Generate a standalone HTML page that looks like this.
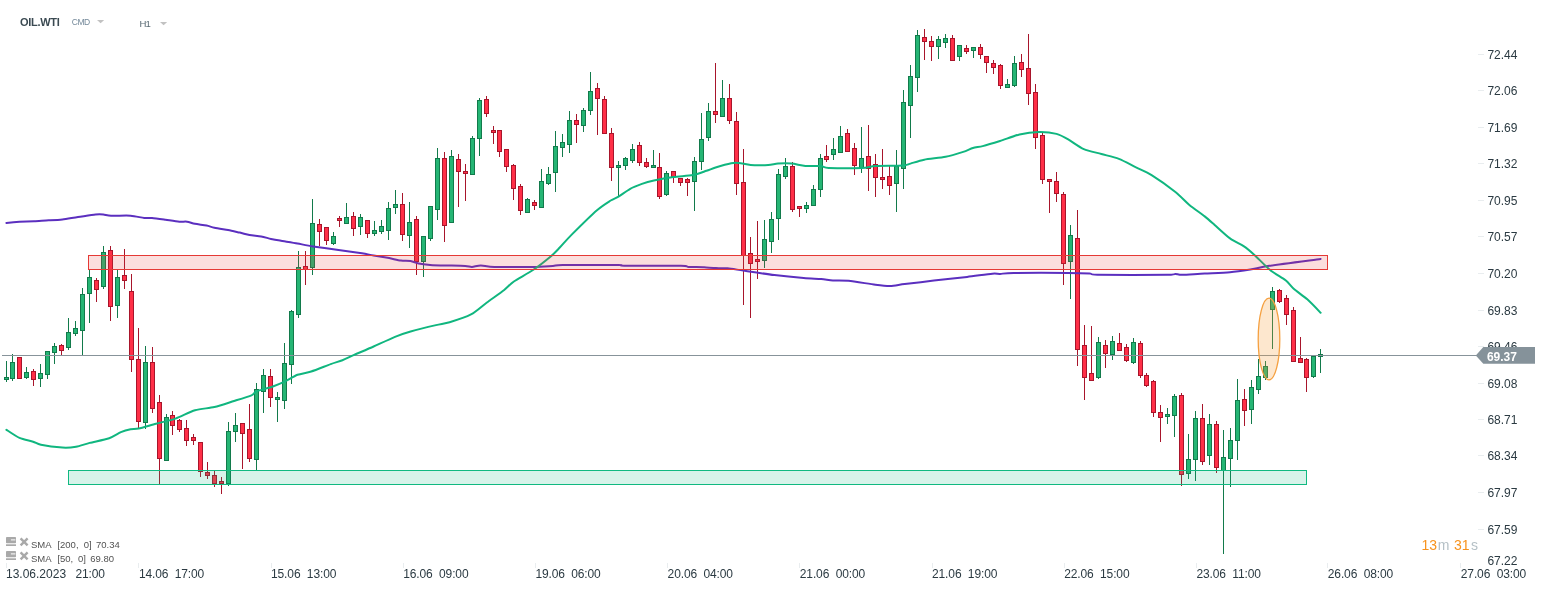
<!DOCTYPE html>
<html><head><meta charset="utf-8"><title>OIL.WTI</title>
<style>
html,body{margin:0;padding:0;background:#fff;}
body{width:1546px;height:590px;position:relative;overflow:hidden;font-family:"Liberation Sans",sans-serif;}
svg{position:absolute;left:0;top:0;}
.yl{position:absolute;left:1487.5px;font-size:12px;line-height:14px;color:#2b3a42;letter-spacing:-0.05px;}
.yt{position:absolute;left:1478px;width:6px;height:1px;background:#e9edef;}
.xl{position:absolute;top:566.5px;font-size:12px;line-height:14px;color:#2b3a42;white-space:nowrap;letter-spacing:-0.12px;}
.xt{position:absolute;top:563px;width:1px;height:5px;background:#e9edef;}
.hd{position:absolute;white-space:nowrap;}
.lg{position:absolute;font-size:9.5px;line-height:12px;color:#525252;white-space:nowrap;}
</style></head><body>
<svg width="1546" height="590" viewBox="0 0 1546 590">
<g shape-rendering="crispEdges">
<rect x="6.0" y="361" width="1" height="21" fill="#127a4b"/>
<rect x="4.5" y="377.5" width="4" height="2" fill="#25b574" stroke="#127a4b" stroke-width="1"/>
<rect x="12.0" y="354" width="1" height="27" fill="#127a4b"/>
<rect x="10.5" y="362.5" width="4" height="16" fill="#25b574" stroke="#127a4b" stroke-width="1"/>
<rect x="19.0" y="357" width="1" height="22" fill="#a8152b"/>
<rect x="17.5" y="357.5" width="4" height="21" fill="#ff2f47" stroke="#a8152b" stroke-width="1"/>
<rect x="26.0" y="367" width="1" height="12" fill="#127a4b"/>
<rect x="24.5" y="372.5" width="4" height="5" fill="#25b574" stroke="#127a4b" stroke-width="1"/>
<rect x="33.0" y="369" width="1" height="17" fill="#a8152b"/>
<rect x="31.5" y="371.5" width="4" height="8" fill="#ff2f47" stroke="#a8152b" stroke-width="1"/>
<rect x="40.0" y="364" width="1" height="23" fill="#127a4b"/>
<rect x="38.5" y="373.5" width="4" height="5" fill="#25b574" stroke="#127a4b" stroke-width="1"/>
<rect x="47.0" y="351" width="1" height="28" fill="#127a4b"/>
<rect x="45.5" y="351.5" width="4" height="23" fill="#25b574" stroke="#127a4b" stroke-width="1"/>
<rect x="54.0" y="343" width="1" height="21" fill="#127a4b"/>
<rect x="52.5" y="346.5" width="4" height="6" fill="#25b574" stroke="#127a4b" stroke-width="1"/>
<rect x="61.0" y="344" width="1" height="11" fill="#a8152b"/>
<rect x="59.5" y="345.5" width="4" height="5" fill="#ff2f47" stroke="#a8152b" stroke-width="1"/>
<rect x="68.0" y="318" width="1" height="32" fill="#127a4b"/>
<rect x="66.5" y="332.5" width="4" height="15" fill="#25b574" stroke="#127a4b" stroke-width="1"/>
<rect x="75.0" y="321" width="1" height="15" fill="#127a4b"/>
<rect x="73.5" y="328.5" width="4" height="5" fill="#25b574" stroke="#127a4b" stroke-width="1"/>
<rect x="82.0" y="288" width="1" height="67" fill="#127a4b"/>
<rect x="80.5" y="294.5" width="4" height="36" fill="#25b574" stroke="#127a4b" stroke-width="1"/>
<rect x="89.0" y="269" width="1" height="54" fill="#127a4b"/>
<rect x="87.5" y="277.5" width="4" height="16" fill="#25b574" stroke="#127a4b" stroke-width="1"/>
<rect x="96.0" y="278" width="1" height="24" fill="#a8152b"/>
<rect x="94.5" y="280.5" width="4" height="9" fill="#ff2f47" stroke="#a8152b" stroke-width="1"/>
<rect x="103.0" y="246" width="1" height="43" fill="#127a4b"/>
<rect x="101.5" y="252.5" width="4" height="34" fill="#25b574" stroke="#127a4b" stroke-width="1"/>
<rect x="110.0" y="246" width="1" height="75" fill="#a8152b"/>
<rect x="108.5" y="250.5" width="4" height="56" fill="#ff2f47" stroke="#a8152b" stroke-width="1"/>
<rect x="117.0" y="269" width="1" height="49" fill="#127a4b"/>
<rect x="115.5" y="277.5" width="4" height="28" fill="#25b574" stroke="#127a4b" stroke-width="1"/>
<rect x="124.0" y="249" width="1" height="40" fill="#a8152b"/>
<rect x="122.5" y="275.5" width="4" height="5" fill="#ff2f47" stroke="#a8152b" stroke-width="1"/>
<rect x="131.0" y="274" width="1" height="98" fill="#a8152b"/>
<rect x="129.5" y="291.5" width="4" height="68" fill="#ff2f47" stroke="#a8152b" stroke-width="1"/>
<rect x="138.0" y="328" width="1" height="100" fill="#a8152b"/>
<rect x="136.5" y="359.5" width="4" height="62" fill="#ff2f47" stroke="#a8152b" stroke-width="1"/>
<rect x="145.0" y="346" width="1" height="83" fill="#127a4b"/>
<rect x="143.5" y="362.5" width="4" height="60" fill="#25b574" stroke="#127a4b" stroke-width="1"/>
<rect x="152.0" y="347" width="1" height="66" fill="#a8152b"/>
<rect x="150.5" y="362.5" width="4" height="46" fill="#ff2f47" stroke="#a8152b" stroke-width="1"/>
<rect x="159.0" y="395" width="1" height="89" fill="#a8152b"/>
<rect x="157.5" y="402.5" width="4" height="56" fill="#ff2f47" stroke="#a8152b" stroke-width="1"/>
<rect x="166.0" y="414" width="1" height="47" fill="#127a4b"/>
<rect x="164.5" y="417.5" width="4" height="43" fill="#25b574" stroke="#127a4b" stroke-width="1"/>
<rect x="172.0" y="411" width="1" height="24" fill="#a8152b"/>
<rect x="170.5" y="415.5" width="4" height="10" fill="#ff2f47" stroke="#a8152b" stroke-width="1"/>
<rect x="179.0" y="419" width="1" height="13" fill="#a8152b"/>
<rect x="177.5" y="420.5" width="4" height="9" fill="#ff2f47" stroke="#a8152b" stroke-width="1"/>
<rect x="186.0" y="420" width="1" height="26" fill="#a8152b"/>
<rect x="184.5" y="428.5" width="4" height="12" fill="#ff2f47" stroke="#a8152b" stroke-width="1"/>
<rect x="193.0" y="434" width="1" height="11" fill="#a8152b"/>
<rect x="191.5" y="437.5" width="4" height="3" fill="#ff2f47" stroke="#a8152b" stroke-width="1"/>
<rect x="200.0" y="442" width="1" height="35" fill="#a8152b"/>
<rect x="198.5" y="442.5" width="4" height="29" fill="#ff2f47" stroke="#a8152b" stroke-width="1"/>
<rect x="207.0" y="462" width="1" height="17" fill="#a8152b"/>
<rect x="205.5" y="472.5" width="4" height="3" fill="#ff2f47" stroke="#a8152b" stroke-width="1"/>
<rect x="214.0" y="471" width="1" height="16" fill="#a8152b"/>
<rect x="212.5" y="475.5" width="4" height="8" fill="#ff2f47" stroke="#a8152b" stroke-width="1"/>
<rect x="221.0" y="477" width="1" height="17" fill="#a8152b"/>
<rect x="219.5" y="481.5" width="4" height="2" fill="#ff2f47" stroke="#a8152b" stroke-width="1"/>
<rect x="228.0" y="422" width="1" height="64" fill="#127a4b"/>
<rect x="226.5" y="431.5" width="4" height="52" fill="#25b574" stroke="#127a4b" stroke-width="1"/>
<rect x="235.0" y="413" width="1" height="29" fill="#127a4b"/>
<rect x="233.5" y="425.5" width="4" height="6" fill="#25b574" stroke="#127a4b" stroke-width="1"/>
<rect x="242.0" y="423" width="1" height="46" fill="#a8152b"/>
<rect x="240.5" y="423.5" width="4" height="10" fill="#ff2f47" stroke="#a8152b" stroke-width="1"/>
<rect x="249.0" y="404" width="1" height="58" fill="#a8152b"/>
<rect x="247.5" y="429.5" width="4" height="29" fill="#ff2f47" stroke="#a8152b" stroke-width="1"/>
<rect x="256.0" y="383" width="1" height="87" fill="#127a4b"/>
<rect x="254.5" y="389.5" width="4" height="70" fill="#25b574" stroke="#127a4b" stroke-width="1"/>
<rect x="263.0" y="369" width="1" height="44" fill="#127a4b"/>
<rect x="261.5" y="375.5" width="4" height="16" fill="#25b574" stroke="#127a4b" stroke-width="1"/>
<rect x="270.0" y="369" width="1" height="38" fill="#a8152b"/>
<rect x="268.5" y="376.5" width="4" height="21" fill="#ff2f47" stroke="#a8152b" stroke-width="1"/>
<rect x="277.0" y="392" width="1" height="30" fill="#127a4b"/>
<rect x="275.5" y="397.5" width="4" height="2" fill="#25b574" stroke="#127a4b" stroke-width="1"/>
<rect x="284.0" y="343" width="1" height="66" fill="#127a4b"/>
<rect x="282.5" y="363.5" width="4" height="37" fill="#25b574" stroke="#127a4b" stroke-width="1"/>
<rect x="291.0" y="310" width="1" height="74" fill="#127a4b"/>
<rect x="289.5" y="311.5" width="4" height="53" fill="#25b574" stroke="#127a4b" stroke-width="1"/>
<rect x="298.0" y="251" width="1" height="67" fill="#127a4b"/>
<rect x="296.5" y="267.5" width="4" height="47" fill="#25b574" stroke="#127a4b" stroke-width="1"/>
<rect x="305.0" y="251" width="1" height="34" fill="#a8152b"/>
<rect x="303.5" y="266.5" width="4" height="3" fill="#ff2f47" stroke="#a8152b" stroke-width="1"/>
<rect x="312.0" y="199" width="1" height="76" fill="#127a4b"/>
<rect x="310.5" y="223.5" width="4" height="44" fill="#25b574" stroke="#127a4b" stroke-width="1"/>
<rect x="319.0" y="219" width="1" height="27" fill="#a8152b"/>
<rect x="317.5" y="224.5" width="4" height="7" fill="#ff2f47" stroke="#a8152b" stroke-width="1"/>
<rect x="326.0" y="227" width="1" height="18" fill="#a8152b"/>
<rect x="324.5" y="227.5" width="4" height="13" fill="#ff2f47" stroke="#a8152b" stroke-width="1"/>
<rect x="333.0" y="232" width="1" height="13" fill="#127a4b"/>
<rect x="331.5" y="236.5" width="4" height="7" fill="#25b574" stroke="#127a4b" stroke-width="1"/>
<rect x="339.0" y="216" width="1" height="11" fill="#a8152b"/>
<rect x="337.5" y="218.5" width="4" height="2" fill="#ff2f47" stroke="#a8152b" stroke-width="1"/>
<rect x="346.0" y="203" width="1" height="21" fill="#127a4b"/>
<rect x="344.5" y="217.5" width="4" height="6" fill="#25b574" stroke="#127a4b" stroke-width="1"/>
<rect x="353.0" y="212" width="1" height="24" fill="#a8152b"/>
<rect x="351.5" y="216.5" width="4" height="12" fill="#ff2f47" stroke="#a8152b" stroke-width="1"/>
<rect x="360.0" y="214" width="1" height="21" fill="#127a4b"/>
<rect x="358.5" y="217.5" width="4" height="9" fill="#25b574" stroke="#127a4b" stroke-width="1"/>
<rect x="367.0" y="220" width="1" height="18" fill="#a8152b"/>
<rect x="365.5" y="220.5" width="4" height="13" fill="#ff2f47" stroke="#a8152b" stroke-width="1"/>
<rect x="374.0" y="221" width="1" height="15" fill="#127a4b"/>
<rect x="372.5" y="230.5" width="4" height="3" fill="#25b574" stroke="#127a4b" stroke-width="1"/>
<rect x="381.0" y="220" width="1" height="14" fill="#127a4b"/>
<rect x="379.5" y="226.5" width="4" height="5" fill="#25b574" stroke="#127a4b" stroke-width="1"/>
<rect x="388.0" y="202" width="1" height="38" fill="#127a4b"/>
<rect x="386.5" y="208.5" width="4" height="22" fill="#25b574" stroke="#127a4b" stroke-width="1"/>
<rect x="395.0" y="190" width="1" height="24" fill="#127a4b"/>
<rect x="393.5" y="204.5" width="4" height="3" fill="#25b574" stroke="#127a4b" stroke-width="1"/>
<rect x="402.0" y="193" width="1" height="48" fill="#a8152b"/>
<rect x="400.5" y="204.5" width="4" height="30" fill="#ff2f47" stroke="#a8152b" stroke-width="1"/>
<rect x="409.0" y="202" width="1" height="46" fill="#127a4b"/>
<rect x="407.5" y="222.5" width="4" height="13" fill="#25b574" stroke="#127a4b" stroke-width="1"/>
<rect x="416.0" y="216" width="1" height="59" fill="#a8152b"/>
<rect x="414.5" y="219.5" width="4" height="42" fill="#ff2f47" stroke="#a8152b" stroke-width="1"/>
<rect x="423.0" y="236" width="1" height="41" fill="#127a4b"/>
<rect x="421.5" y="236.5" width="4" height="25" fill="#25b574" stroke="#127a4b" stroke-width="1"/>
<rect x="430.0" y="206" width="1" height="35" fill="#127a4b"/>
<rect x="428.5" y="206.5" width="4" height="32" fill="#25b574" stroke="#127a4b" stroke-width="1"/>
<rect x="437.0" y="148" width="1" height="72" fill="#127a4b"/>
<rect x="435.5" y="158.5" width="4" height="51" fill="#25b574" stroke="#127a4b" stroke-width="1"/>
<rect x="444.0" y="152" width="1" height="90" fill="#a8152b"/>
<rect x="442.5" y="158.5" width="4" height="67" fill="#ff2f47" stroke="#a8152b" stroke-width="1"/>
<rect x="451.0" y="150" width="1" height="73" fill="#127a4b"/>
<rect x="449.5" y="156.5" width="4" height="66" fill="#25b574" stroke="#127a4b" stroke-width="1"/>
<rect x="458.0" y="154" width="1" height="53" fill="#a8152b"/>
<rect x="456.5" y="159.5" width="4" height="12" fill="#ff2f47" stroke="#a8152b" stroke-width="1"/>
<rect x="465.0" y="164" width="1" height="37" fill="#a8152b"/>
<rect x="463.5" y="171.5" width="4" height="2" fill="#ff2f47" stroke="#a8152b" stroke-width="1"/>
<rect x="472.0" y="136" width="1" height="39" fill="#127a4b"/>
<rect x="470.5" y="138.5" width="4" height="36" fill="#25b574" stroke="#127a4b" stroke-width="1"/>
<rect x="479.0" y="98" width="1" height="58" fill="#127a4b"/>
<rect x="477.5" y="100.5" width="4" height="38" fill="#25b574" stroke="#127a4b" stroke-width="1"/>
<rect x="486.0" y="96" width="1" height="21" fill="#a8152b"/>
<rect x="484.5" y="99.5" width="4" height="14" fill="#ff2f47" stroke="#a8152b" stroke-width="1"/>
<rect x="493.0" y="126" width="1" height="18" fill="#a8152b"/>
<rect x="491.5" y="130.5" width="4" height="2" fill="#ff2f47" stroke="#a8152b" stroke-width="1"/>
<rect x="499.0" y="130" width="1" height="27" fill="#a8152b"/>
<rect x="497.5" y="130.5" width="4" height="21" fill="#ff2f47" stroke="#a8152b" stroke-width="1"/>
<rect x="506.0" y="149" width="1" height="23" fill="#a8152b"/>
<rect x="504.5" y="149.5" width="4" height="17" fill="#ff2f47" stroke="#a8152b" stroke-width="1"/>
<rect x="513.0" y="164" width="1" height="36" fill="#a8152b"/>
<rect x="511.5" y="165.5" width="4" height="23" fill="#ff2f47" stroke="#a8152b" stroke-width="1"/>
<rect x="520.0" y="184" width="1" height="31" fill="#a8152b"/>
<rect x="518.5" y="186.5" width="4" height="24" fill="#ff2f47" stroke="#a8152b" stroke-width="1"/>
<rect x="527.0" y="198" width="1" height="15" fill="#127a4b"/>
<rect x="525.5" y="199.5" width="4" height="13" fill="#25b574" stroke="#127a4b" stroke-width="1"/>
<rect x="534.0" y="200" width="1" height="10" fill="#a8152b"/>
<rect x="532.5" y="202.5" width="4" height="3" fill="#ff2f47" stroke="#a8152b" stroke-width="1"/>
<rect x="541.0" y="169" width="1" height="39" fill="#127a4b"/>
<rect x="539.5" y="181.5" width="4" height="26" fill="#25b574" stroke="#127a4b" stroke-width="1"/>
<rect x="548.0" y="167" width="1" height="18" fill="#127a4b"/>
<rect x="546.5" y="174.5" width="4" height="9" fill="#25b574" stroke="#127a4b" stroke-width="1"/>
<rect x="555.0" y="131" width="1" height="61" fill="#127a4b"/>
<rect x="553.5" y="146.5" width="4" height="26" fill="#25b574" stroke="#127a4b" stroke-width="1"/>
<rect x="562.0" y="134" width="1" height="23" fill="#127a4b"/>
<rect x="560.5" y="142.5" width="4" height="5" fill="#25b574" stroke="#127a4b" stroke-width="1"/>
<rect x="569.0" y="111" width="1" height="42" fill="#127a4b"/>
<rect x="567.5" y="120.5" width="4" height="24" fill="#25b574" stroke="#127a4b" stroke-width="1"/>
<rect x="576.0" y="114" width="1" height="29" fill="#a8152b"/>
<rect x="574.5" y="120.5" width="4" height="4" fill="#ff2f47" stroke="#a8152b" stroke-width="1"/>
<rect x="583.0" y="108" width="1" height="24" fill="#127a4b"/>
<rect x="581.5" y="110.5" width="4" height="15" fill="#25b574" stroke="#127a4b" stroke-width="1"/>
<rect x="590.0" y="72" width="1" height="43" fill="#127a4b"/>
<rect x="588.5" y="91.5" width="4" height="19" fill="#25b574" stroke="#127a4b" stroke-width="1"/>
<rect x="597.0" y="83" width="1" height="52" fill="#a8152b"/>
<rect x="595.5" y="88.5" width="4" height="10" fill="#ff2f47" stroke="#a8152b" stroke-width="1"/>
<rect x="604.0" y="96" width="1" height="38" fill="#a8152b"/>
<rect x="602.5" y="99.5" width="4" height="34" fill="#ff2f47" stroke="#a8152b" stroke-width="1"/>
<rect x="611.0" y="128" width="1" height="53" fill="#a8152b"/>
<rect x="609.5" y="133.5" width="4" height="34" fill="#ff2f47" stroke="#a8152b" stroke-width="1"/>
<rect x="618.0" y="161" width="1" height="35" fill="#127a4b"/>
<rect x="616.5" y="165.5" width="4" height="2" fill="#25b574" stroke="#127a4b" stroke-width="1"/>
<rect x="625.0" y="157" width="1" height="13" fill="#127a4b"/>
<rect x="623.5" y="158.5" width="4" height="7" fill="#25b574" stroke="#127a4b" stroke-width="1"/>
<rect x="632.0" y="144" width="1" height="19" fill="#127a4b"/>
<rect x="630.5" y="149.5" width="4" height="11" fill="#25b574" stroke="#127a4b" stroke-width="1"/>
<rect x="639.0" y="142" width="1" height="24" fill="#a8152b"/>
<rect x="637.5" y="145.5" width="4" height="17" fill="#ff2f47" stroke="#a8152b" stroke-width="1"/>
<rect x="646.0" y="158" width="1" height="10" fill="#a8152b"/>
<rect x="644.5" y="162.5" width="4" height="4" fill="#ff2f47" stroke="#a8152b" stroke-width="1"/>
<rect x="653.0" y="150" width="1" height="18" fill="#127a4b"/>
<rect x="651.5" y="165.5" width="4" height="2" fill="#25b574" stroke="#127a4b" stroke-width="1"/>
<rect x="659.0" y="153" width="1" height="46" fill="#a8152b"/>
<rect x="657.5" y="167.5" width="4" height="29" fill="#ff2f47" stroke="#a8152b" stroke-width="1"/>
<rect x="666.0" y="171" width="1" height="25" fill="#127a4b"/>
<rect x="664.5" y="173.5" width="4" height="21" fill="#25b574" stroke="#127a4b" stroke-width="1"/>
<rect x="673.0" y="171" width="1" height="12" fill="#a8152b"/>
<rect x="671.5" y="171.5" width="4" height="5" fill="#ff2f47" stroke="#a8152b" stroke-width="1"/>
<rect x="680.0" y="178" width="1" height="8" fill="#a8152b"/>
<rect x="678.5" y="178.5" width="4" height="4" fill="#ff2f47" stroke="#a8152b" stroke-width="1"/>
<rect x="687.0" y="178" width="1" height="18" fill="#a8152b"/>
<rect x="685.5" y="179.5" width="4" height="3" fill="#ff2f47" stroke="#a8152b" stroke-width="1"/>
<rect x="694.0" y="157" width="1" height="54" fill="#127a4b"/>
<rect x="692.5" y="161.5" width="4" height="20" fill="#25b574" stroke="#127a4b" stroke-width="1"/>
<rect x="701.0" y="113" width="1" height="57" fill="#127a4b"/>
<rect x="699.5" y="139.5" width="4" height="22" fill="#25b574" stroke="#127a4b" stroke-width="1"/>
<rect x="708.0" y="103" width="1" height="38" fill="#127a4b"/>
<rect x="706.5" y="111.5" width="4" height="26" fill="#25b574" stroke="#127a4b" stroke-width="1"/>
<rect x="715.0" y="63" width="1" height="60" fill="#a8152b"/>
<rect x="713.5" y="111.5" width="4" height="3" fill="#ff2f47" stroke="#a8152b" stroke-width="1"/>
<rect x="722.0" y="80" width="1" height="37" fill="#127a4b"/>
<rect x="720.5" y="98.5" width="4" height="18" fill="#25b574" stroke="#127a4b" stroke-width="1"/>
<rect x="729.0" y="84" width="1" height="40" fill="#a8152b"/>
<rect x="727.5" y="98.5" width="4" height="22" fill="#ff2f47" stroke="#a8152b" stroke-width="1"/>
<rect x="736.0" y="112" width="1" height="83" fill="#a8152b"/>
<rect x="734.5" y="121.5" width="4" height="62" fill="#ff2f47" stroke="#a8152b" stroke-width="1"/>
<rect x="743.0" y="149" width="1" height="156" fill="#a8152b"/>
<rect x="741.5" y="182.5" width="4" height="73" fill="#ff2f47" stroke="#a8152b" stroke-width="1"/>
<rect x="750.0" y="237" width="1" height="81" fill="#a8152b"/>
<rect x="748.5" y="253.5" width="4" height="10" fill="#ff2f47" stroke="#a8152b" stroke-width="1"/>
<rect x="757.0" y="221" width="1" height="58" fill="#a8152b"/>
<rect x="755.5" y="259.5" width="4" height="2" fill="#ff2f47" stroke="#a8152b" stroke-width="1"/>
<rect x="764.0" y="220" width="1" height="48" fill="#127a4b"/>
<rect x="762.5" y="239.5" width="4" height="21" fill="#25b574" stroke="#127a4b" stroke-width="1"/>
<rect x="771.0" y="212" width="1" height="41" fill="#127a4b"/>
<rect x="769.5" y="219.5" width="4" height="22" fill="#25b574" stroke="#127a4b" stroke-width="1"/>
<rect x="778.0" y="169" width="1" height="71" fill="#127a4b"/>
<rect x="776.5" y="174.5" width="4" height="44" fill="#25b574" stroke="#127a4b" stroke-width="1"/>
<rect x="785.0" y="158" width="1" height="21" fill="#127a4b"/>
<rect x="783.5" y="166.5" width="4" height="10" fill="#25b574" stroke="#127a4b" stroke-width="1"/>
<rect x="792.0" y="162" width="1" height="50" fill="#a8152b"/>
<rect x="790.5" y="166.5" width="4" height="43" fill="#ff2f47" stroke="#a8152b" stroke-width="1"/>
<rect x="799.0" y="206" width="1" height="11" fill="#a8152b"/>
<rect x="797.5" y="206.5" width="4" height="2" fill="#ff2f47" stroke="#a8152b" stroke-width="1"/>
<rect x="806.0" y="202" width="1" height="11" fill="#127a4b"/>
<rect x="804.5" y="205.5" width="4" height="3" fill="#25b574" stroke="#127a4b" stroke-width="1"/>
<rect x="813.0" y="185" width="1" height="21" fill="#127a4b"/>
<rect x="811.5" y="189.5" width="4" height="16" fill="#25b574" stroke="#127a4b" stroke-width="1"/>
<rect x="820.0" y="154" width="1" height="43" fill="#127a4b"/>
<rect x="818.5" y="158.5" width="4" height="31" fill="#25b574" stroke="#127a4b" stroke-width="1"/>
<rect x="826.0" y="145" width="1" height="17" fill="#a8152b"/>
<rect x="824.5" y="156.5" width="4" height="3" fill="#ff2f47" stroke="#a8152b" stroke-width="1"/>
<rect x="833.0" y="138" width="1" height="22" fill="#127a4b"/>
<rect x="831.5" y="149.5" width="4" height="5" fill="#25b574" stroke="#127a4b" stroke-width="1"/>
<rect x="840.0" y="126" width="1" height="27" fill="#127a4b"/>
<rect x="838.5" y="136.5" width="4" height="16" fill="#25b574" stroke="#127a4b" stroke-width="1"/>
<rect x="847.0" y="129" width="1" height="23" fill="#a8152b"/>
<rect x="845.5" y="133.5" width="4" height="18" fill="#ff2f47" stroke="#a8152b" stroke-width="1"/>
<rect x="854.0" y="143" width="1" height="32" fill="#a8152b"/>
<rect x="852.5" y="148.5" width="4" height="17" fill="#ff2f47" stroke="#a8152b" stroke-width="1"/>
<rect x="861.0" y="127" width="1" height="46" fill="#127a4b"/>
<rect x="859.5" y="158.5" width="4" height="9" fill="#25b574" stroke="#127a4b" stroke-width="1"/>
<rect x="868.0" y="125" width="1" height="66" fill="#a8152b"/>
<rect x="866.5" y="156.5" width="4" height="12" fill="#ff2f47" stroke="#a8152b" stroke-width="1"/>
<rect x="875.0" y="154" width="1" height="43" fill="#a8152b"/>
<rect x="873.5" y="164.5" width="4" height="13" fill="#ff2f47" stroke="#a8152b" stroke-width="1"/>
<rect x="882.0" y="149" width="1" height="40" fill="#a8152b"/>
<rect x="880.5" y="177.5" width="4" height="2" fill="#ff2f47" stroke="#a8152b" stroke-width="1"/>
<rect x="889.0" y="166" width="1" height="29" fill="#a8152b"/>
<rect x="887.5" y="176.5" width="4" height="9" fill="#ff2f47" stroke="#a8152b" stroke-width="1"/>
<rect x="896.0" y="150" width="1" height="62" fill="#127a4b"/>
<rect x="894.5" y="166.5" width="4" height="17" fill="#25b574" stroke="#127a4b" stroke-width="1"/>
<rect x="903.0" y="90" width="1" height="99" fill="#127a4b"/>
<rect x="901.5" y="102.5" width="4" height="66" fill="#25b574" stroke="#127a4b" stroke-width="1"/>
<rect x="910.0" y="65" width="1" height="73" fill="#127a4b"/>
<rect x="908.5" y="76.5" width="4" height="29" fill="#25b574" stroke="#127a4b" stroke-width="1"/>
<rect x="917.0" y="30" width="1" height="62" fill="#127a4b"/>
<rect x="915.5" y="35.5" width="4" height="42" fill="#25b574" stroke="#127a4b" stroke-width="1"/>
<rect x="924.0" y="29" width="1" height="31" fill="#a8152b"/>
<rect x="922.5" y="37.5" width="4" height="4" fill="#ff2f47" stroke="#a8152b" stroke-width="1"/>
<rect x="931.0" y="36" width="1" height="25" fill="#a8152b"/>
<rect x="929.5" y="41.5" width="4" height="5" fill="#ff2f47" stroke="#a8152b" stroke-width="1"/>
<rect x="938.0" y="36" width="1" height="23" fill="#127a4b"/>
<rect x="936.5" y="39.5" width="4" height="7" fill="#25b574" stroke="#127a4b" stroke-width="1"/>
<rect x="945.0" y="34" width="1" height="14" fill="#127a4b"/>
<rect x="943.5" y="38.5" width="4" height="4" fill="#25b574" stroke="#127a4b" stroke-width="1"/>
<rect x="952.0" y="35" width="1" height="26" fill="#a8152b"/>
<rect x="950.5" y="38.5" width="4" height="22" fill="#ff2f47" stroke="#a8152b" stroke-width="1"/>
<rect x="959.0" y="45" width="1" height="16" fill="#127a4b"/>
<rect x="957.5" y="45.5" width="4" height="11" fill="#25b574" stroke="#127a4b" stroke-width="1"/>
<rect x="966.0" y="45" width="1" height="9" fill="#a8152b"/>
<rect x="964.5" y="48.5" width="4" height="3" fill="#ff2f47" stroke="#a8152b" stroke-width="1"/>
<rect x="973.0" y="47" width="1" height="11" fill="#127a4b"/>
<rect x="971.5" y="47.5" width="4" height="3" fill="#25b574" stroke="#127a4b" stroke-width="1"/>
<rect x="980.0" y="44" width="1" height="15" fill="#a8152b"/>
<rect x="978.5" y="47.5" width="4" height="7" fill="#ff2f47" stroke="#a8152b" stroke-width="1"/>
<rect x="986.0" y="56" width="1" height="17" fill="#a8152b"/>
<rect x="984.5" y="56.5" width="4" height="6" fill="#ff2f47" stroke="#a8152b" stroke-width="1"/>
<rect x="993.0" y="60" width="1" height="14" fill="#a8152b"/>
<rect x="991.5" y="63.5" width="4" height="4" fill="#ff2f47" stroke="#a8152b" stroke-width="1"/>
<rect x="1000.0" y="64" width="1" height="25" fill="#a8152b"/>
<rect x="998.5" y="65.5" width="4" height="20" fill="#ff2f47" stroke="#a8152b" stroke-width="1"/>
<rect x="1007.0" y="79" width="1" height="9" fill="#127a4b"/>
<rect x="1005.5" y="84.5" width="4" height="3" fill="#25b574" stroke="#127a4b" stroke-width="1"/>
<rect x="1014.0" y="56" width="1" height="31" fill="#127a4b"/>
<rect x="1012.5" y="63.5" width="4" height="22" fill="#25b574" stroke="#127a4b" stroke-width="1"/>
<rect x="1021.0" y="54" width="1" height="23" fill="#a8152b"/>
<rect x="1019.5" y="62.5" width="4" height="7" fill="#ff2f47" stroke="#a8152b" stroke-width="1"/>
<rect x="1028.0" y="34" width="1" height="71" fill="#a8152b"/>
<rect x="1026.5" y="68.5" width="4" height="25" fill="#ff2f47" stroke="#a8152b" stroke-width="1"/>
<rect x="1035.0" y="84" width="1" height="65" fill="#a8152b"/>
<rect x="1033.5" y="92.5" width="4" height="45" fill="#ff2f47" stroke="#a8152b" stroke-width="1"/>
<rect x="1042.0" y="133" width="1" height="51" fill="#a8152b"/>
<rect x="1040.5" y="135.5" width="4" height="44" fill="#ff2f47" stroke="#a8152b" stroke-width="1"/>
<rect x="1049.0" y="179" width="1" height="34" fill="#a8152b"/>
<rect x="1047.5" y="179.5" width="4" height="2" fill="#ff2f47" stroke="#a8152b" stroke-width="1"/>
<rect x="1056.0" y="172" width="1" height="30" fill="#a8152b"/>
<rect x="1054.5" y="181.5" width="4" height="12" fill="#ff2f47" stroke="#a8152b" stroke-width="1"/>
<rect x="1063.0" y="192" width="1" height="93" fill="#a8152b"/>
<rect x="1061.5" y="194.5" width="4" height="69" fill="#ff2f47" stroke="#a8152b" stroke-width="1"/>
<rect x="1070.0" y="225" width="1" height="74" fill="#127a4b"/>
<rect x="1068.5" y="235.5" width="4" height="26" fill="#25b574" stroke="#127a4b" stroke-width="1"/>
<rect x="1077.0" y="210" width="1" height="156" fill="#a8152b"/>
<rect x="1075.5" y="238.5" width="4" height="111" fill="#ff2f47" stroke="#a8152b" stroke-width="1"/>
<rect x="1084.0" y="325" width="1" height="75" fill="#a8152b"/>
<rect x="1082.5" y="345.5" width="4" height="32" fill="#ff2f47" stroke="#a8152b" stroke-width="1"/>
<rect x="1091.0" y="326" width="1" height="55" fill="#a8152b"/>
<rect x="1089.5" y="373.5" width="4" height="7" fill="#ff2f47" stroke="#a8152b" stroke-width="1"/>
<rect x="1098.0" y="337" width="1" height="42" fill="#127a4b"/>
<rect x="1096.5" y="342.5" width="4" height="35" fill="#25b574" stroke="#127a4b" stroke-width="1"/>
<rect x="1105.0" y="340" width="1" height="28" fill="#a8152b"/>
<rect x="1103.5" y="345.5" width="4" height="8" fill="#ff2f47" stroke="#a8152b" stroke-width="1"/>
<rect x="1112.0" y="336" width="1" height="24" fill="#127a4b"/>
<rect x="1110.5" y="341.5" width="4" height="13" fill="#25b574" stroke="#127a4b" stroke-width="1"/>
<rect x="1119.0" y="333" width="1" height="18" fill="#a8152b"/>
<rect x="1117.5" y="343.5" width="4" height="7" fill="#ff2f47" stroke="#a8152b" stroke-width="1"/>
<rect x="1126.0" y="344" width="1" height="18" fill="#a8152b"/>
<rect x="1124.5" y="347.5" width="4" height="13" fill="#ff2f47" stroke="#a8152b" stroke-width="1"/>
<rect x="1133.0" y="338" width="1" height="26" fill="#127a4b"/>
<rect x="1131.5" y="342.5" width="4" height="20" fill="#25b574" stroke="#127a4b" stroke-width="1"/>
<rect x="1140.0" y="341" width="1" height="37" fill="#a8152b"/>
<rect x="1138.5" y="343.5" width="4" height="32" fill="#ff2f47" stroke="#a8152b" stroke-width="1"/>
<rect x="1146.0" y="373" width="1" height="14" fill="#a8152b"/>
<rect x="1144.5" y="375.5" width="4" height="10" fill="#ff2f47" stroke="#a8152b" stroke-width="1"/>
<rect x="1153.0" y="380" width="1" height="37" fill="#a8152b"/>
<rect x="1151.5" y="381.5" width="4" height="31" fill="#ff2f47" stroke="#a8152b" stroke-width="1"/>
<rect x="1160.0" y="405" width="1" height="37" fill="#a8152b"/>
<rect x="1158.5" y="412.5" width="4" height="5" fill="#ff2f47" stroke="#a8152b" stroke-width="1"/>
<rect x="1167.0" y="408" width="1" height="16" fill="#127a4b"/>
<rect x="1165.5" y="414.5" width="4" height="2" fill="#25b574" stroke="#127a4b" stroke-width="1"/>
<rect x="1174.0" y="394" width="1" height="43" fill="#127a4b"/>
<rect x="1172.5" y="396.5" width="4" height="19" fill="#25b574" stroke="#127a4b" stroke-width="1"/>
<rect x="1181.0" y="393" width="1" height="93" fill="#a8152b"/>
<rect x="1179.5" y="395.5" width="4" height="79" fill="#ff2f47" stroke="#a8152b" stroke-width="1"/>
<rect x="1188.0" y="434" width="1" height="45" fill="#127a4b"/>
<rect x="1186.5" y="459.5" width="4" height="14" fill="#25b574" stroke="#127a4b" stroke-width="1"/>
<rect x="1195.0" y="411" width="1" height="70" fill="#127a4b"/>
<rect x="1193.5" y="418.5" width="4" height="41" fill="#25b574" stroke="#127a4b" stroke-width="1"/>
<rect x="1202.0" y="404" width="1" height="61" fill="#a8152b"/>
<rect x="1200.5" y="418.5" width="4" height="43" fill="#ff2f47" stroke="#a8152b" stroke-width="1"/>
<rect x="1209.0" y="414" width="1" height="51" fill="#127a4b"/>
<rect x="1207.5" y="424.5" width="4" height="31" fill="#25b574" stroke="#127a4b" stroke-width="1"/>
<rect x="1216.0" y="421" width="1" height="52" fill="#a8152b"/>
<rect x="1214.5" y="424.5" width="4" height="43" fill="#ff2f47" stroke="#a8152b" stroke-width="1"/>
<rect x="1223.0" y="430" width="1" height="124" fill="#127a4b"/>
<rect x="1221.5" y="457.5" width="4" height="13" fill="#25b574" stroke="#127a4b" stroke-width="1"/>
<rect x="1230.0" y="428" width="1" height="59" fill="#127a4b"/>
<rect x="1228.5" y="440.5" width="4" height="18" fill="#25b574" stroke="#127a4b" stroke-width="1"/>
<rect x="1237.0" y="379" width="1" height="81" fill="#127a4b"/>
<rect x="1235.5" y="400.5" width="4" height="40" fill="#25b574" stroke="#127a4b" stroke-width="1"/>
<rect x="1244.0" y="389" width="1" height="37" fill="#a8152b"/>
<rect x="1242.5" y="399.5" width="4" height="11" fill="#ff2f47" stroke="#a8152b" stroke-width="1"/>
<rect x="1251.0" y="380" width="1" height="44" fill="#127a4b"/>
<rect x="1249.5" y="387.5" width="4" height="22" fill="#25b574" stroke="#127a4b" stroke-width="1"/>
<rect x="1258.0" y="359" width="1" height="35" fill="#127a4b"/>
<rect x="1256.5" y="376.5" width="4" height="13" fill="#25b574" stroke="#127a4b" stroke-width="1"/>
<rect x="1265.0" y="361" width="1" height="19" fill="#127a4b"/>
<rect x="1263.5" y="366.5" width="4" height="11" fill="#25b574" stroke="#127a4b" stroke-width="1"/>
<rect x="1272.0" y="287" width="1" height="62" fill="#127a4b"/>
<rect x="1270.5" y="291.5" width="4" height="18" fill="#25b574" stroke="#127a4b" stroke-width="1"/>
<rect x="1279.0" y="289" width="1" height="14" fill="#a8152b"/>
<rect x="1277.5" y="290.5" width="4" height="11" fill="#ff2f47" stroke="#a8152b" stroke-width="1"/>
<rect x="1286.0" y="295" width="1" height="30" fill="#a8152b"/>
<rect x="1284.5" y="298.5" width="4" height="16" fill="#ff2f47" stroke="#a8152b" stroke-width="1"/>
<rect x="1293.0" y="307" width="1" height="55" fill="#a8152b"/>
<rect x="1291.5" y="310.5" width="4" height="51" fill="#ff2f47" stroke="#a8152b" stroke-width="1"/>
<rect x="1300.0" y="337" width="1" height="26" fill="#a8152b"/>
<rect x="1298.5" y="358.5" width="4" height="4" fill="#ff2f47" stroke="#a8152b" stroke-width="1"/>
<rect x="1306.0" y="358" width="1" height="34" fill="#a8152b"/>
<rect x="1304.5" y="359.5" width="4" height="18" fill="#ff2f47" stroke="#a8152b" stroke-width="1"/>
<rect x="1313.0" y="355" width="1" height="23" fill="#127a4b"/>
<rect x="1311.5" y="356.5" width="4" height="20" fill="#25b574" stroke="#127a4b" stroke-width="1"/>
<rect x="1320.0" y="349" width="1" height="24" fill="#127a4b"/>
<rect x="1318.5" y="354.5" width="4" height="2" fill="#25b574" stroke="#127a4b" stroke-width="1"/>
</g>
<line x1="2" x2="1484" y1="355.5" y2="355.5" stroke="#87939a" stroke-width="1" shape-rendering="crispEdges"/>
<path d="M6.4,222.9 C8.1,222.7 15.9,221.9 19.5,221.7 C23.1,221.5 30.3,221.5 34.1,221.3 C37.9,221.1 45.0,220.5 48.7,220.3 C52.4,220.1 58.6,219.8 62.4,219.4 C66.2,219.0 73.7,217.6 78.0,217.0 C82.3,216.4 92.2,214.8 95.5,214.5 C98.8,214.2 101.3,214.3 103.3,214.5 C105.3,214.7 107.6,215.5 111.1,215.7 C114.6,215.9 126.3,215.4 130.6,215.7 C134.9,216.0 141.4,217.7 144.2,218.0 C147.0,218.3 149.2,217.8 152.0,218.0 C154.8,218.2 162.2,219.3 165.7,219.8 C169.2,220.3 176.5,221.5 179.3,221.7 C182.1,221.9 185.1,221.4 187.1,221.7 C189.1,222.0 192.4,223.3 194.9,223.8 C197.4,224.3 204.1,225.1 206.6,225.6 C209.1,226.1 211.6,227.1 214.4,227.7 C217.2,228.3 224.8,229.5 228.1,230.1 C231.4,230.7 237.0,232.0 239.8,232.6 C242.6,233.2 246.7,234.5 249.5,235.0 C252.3,235.5 258.4,236.0 261.2,236.5 C264.0,237.0 268.6,238.4 271.0,238.9 C273.4,239.4 276.6,240.0 280.0,240.6 C283.4,241.2 293.2,242.7 297.5,243.5 C301.8,244.3 307.8,245.6 313.1,246.4 C318.4,247.2 332.2,249.0 338.5,249.9 C344.8,250.8 357.3,252.5 361.9,253.2 C366.5,253.9 370.1,255.0 373.6,255.6 C377.1,256.2 385.7,257.5 389.2,258.1 C392.7,258.8 398.1,260.2 400.9,260.6 C403.7,261.0 408.3,260.6 410.6,261.0 C412.9,261.4 416.1,262.9 418.6,263.4 C421.1,263.9 426.6,264.6 430.1,264.9 C433.6,265.2 441.1,265.4 445.7,265.5 C450.3,265.6 461.8,265.7 465.2,265.9 C468.6,266.1 470.0,267.0 472.0,266.9 C474.0,266.8 477.9,265.5 480.8,265.5 C483.7,265.5 487.6,266.7 494.4,266.9 C501.2,267.1 525.8,267.0 533.4,266.9 C541.0,266.8 549.1,266.1 552.9,265.9 C556.7,265.7 554.2,265.1 562.7,265.0 C571.2,264.9 610.5,264.9 618.5,265.0 C626.5,265.1 616.2,265.7 624.3,265.8 C632.4,265.9 672.5,265.7 680.9,265.8 C689.3,265.9 685.7,266.7 688.7,266.9 C691.7,267.1 700.7,267.1 704.2,267.3 C707.7,267.5 712.9,268.0 715.9,268.1 C718.9,268.2 724.1,268.0 727.6,268.3 C731.1,268.6 737.1,269.7 743.2,270.6 C749.3,271.5 766.5,274.1 774.4,275.1 C782.3,276.1 797.6,277.6 803.7,278.1 C809.8,278.6 817.4,278.7 821.2,279.0 C825.0,279.3 829.4,280.2 832.9,280.4 C836.4,280.6 843.0,280.2 848.5,280.8 C854.0,281.4 870.0,284.0 875.4,284.7 C880.8,285.4 886.3,286.1 890.1,286.0 C893.9,285.9 899.0,284.8 904.7,284.1 C910.4,283.4 925.8,281.5 933.9,280.6 C942.0,279.7 959.5,277.8 967.1,276.9 C974.7,276.0 988.1,274.1 992.4,273.7 C996.7,273.3 997.2,274.0 1000.0,273.9 C1002.8,273.8 1004.7,273.0 1013.6,272.9 C1022.5,272.8 1058.3,272.8 1068.2,272.9 C1078.1,273.0 1085.9,273.3 1089.7,273.5 C1093.5,273.7 1087.4,274.6 1097.5,274.8 C1107.6,275.0 1157.5,274.9 1167.6,274.8 C1177.7,274.7 1173.5,273.9 1175.4,273.9 C1177.3,273.9 1178.5,274.9 1182.3,274.8 C1186.1,274.7 1198.5,273.8 1204.7,273.5 C1210.9,273.2 1224.1,272.8 1230.0,272.3 C1235.9,271.8 1245.2,270.4 1250.3,269.6 C1255.4,268.8 1260.2,267.2 1269.3,265.8 C1278.4,264.4 1313.9,259.9 1320.6,259.0" fill="none" stroke="#5b2fbf" stroke-width="2" stroke-linejoin="round" stroke-linecap="round"/>
<path d="M6.4,429.8 C8.1,430.9 16.0,436.4 19.5,437.9 C23.0,439.4 30.3,440.8 33.1,441.7 C35.9,442.6 37.1,444.0 40.9,444.8 C44.7,445.6 57.8,447.3 62.4,447.6 C67.0,447.9 72.5,447.4 76.0,446.8 C79.5,446.2 85.4,444.0 89.7,442.9 C94.0,441.8 105.1,439.6 109.2,438.2 C113.3,436.8 118.1,433.4 120.9,432.2 C123.7,431.0 128.3,429.7 130.6,429.2 C132.9,428.7 135.3,429.3 138.6,428.6 C141.9,427.9 151.2,425.0 156.0,423.7 C160.8,422.4 170.3,420.3 175.4,418.6 C180.5,416.9 189.9,411.8 195.0,410.3 C200.1,408.8 209.3,408.2 214.4,407.0 C219.5,405.8 229.2,402.5 234.0,401.0 C238.8,399.5 248.6,396.5 251.5,395.3 C254.4,394.1 253.7,392.5 256.5,391.4 C259.3,390.3 269.2,387.8 272.9,386.5 C276.6,385.2 281.4,383.2 284.6,381.7 C287.8,380.2 294.0,376.1 297.5,374.8 C301.0,373.5 306.9,372.9 311.2,371.5 C315.5,370.1 326.6,365.6 330.7,364.1 C334.8,362.6 339.4,361.4 342.4,360.2 C345.4,359.0 350.0,356.7 354.1,354.9 C358.2,353.1 368.3,348.9 373.6,346.5 C378.9,344.1 390.2,338.8 395.0,336.8 C399.8,334.9 405.3,333.0 410.6,331.5 C415.9,330.0 430.9,326.3 436.0,325.1 C441.1,323.9 445.1,323.6 449.6,322.2 C454.2,320.8 466.2,316.9 471.0,314.4 C475.8,311.9 482.3,305.9 486.6,302.7 C490.9,299.5 500.7,292.8 504.2,290.0 C507.7,287.2 510.1,284.1 513.9,281.5 C517.7,278.9 528.6,273.1 533.4,269.8 C538.2,266.5 547.5,259.1 551.0,256.2 C554.5,253.3 557.3,250.1 560.0,247.3 C562.7,244.5 566.9,239.4 571.7,234.6 C576.5,229.8 591.9,214.6 597.0,210.2 C602.1,205.8 607.9,202.3 610.7,200.5 C613.5,198.7 616.0,198.1 618.5,196.6 C621.0,195.1 627.2,190.5 630.2,188.8 C633.2,187.1 638.8,185.0 641.9,183.9 C645.0,182.8 649.8,181.4 653.9,180.5 C658.0,179.6 668.3,177.7 673.4,177.0 C678.5,176.3 688.6,175.9 692.9,175.1 C697.2,174.3 703.5,171.8 706.5,170.8 C709.5,169.8 712.4,168.5 715.6,167.5 C718.8,166.5 728.2,163.8 731.2,163.2 C734.2,162.6 736.5,162.8 739.0,163.0 C741.5,163.2 746.9,164.7 750.7,165.0 C754.5,165.3 764.7,165.2 768.2,165.0 C771.7,164.8 775.0,163.8 778.0,163.6 C781.0,163.4 788.1,163.3 791.6,163.6 C795.1,163.9 801.5,165.6 805.3,165.9 C809.1,166.2 817.9,165.8 820.9,166.1 C823.9,166.4 823.4,167.6 828.7,167.9 C834.0,168.2 855.7,168.3 861.8,168.1 C867.9,167.9 870.1,166.4 875.4,166.1 C880.7,165.8 898.1,165.9 902.7,165.6 C907.3,165.3 907.7,164.4 910.5,163.6 C913.3,162.8 919.6,160.6 924.2,159.7 C928.8,158.8 940.5,157.8 945.6,156.8 C950.7,155.8 959.7,153.0 963.2,151.9 C966.7,150.8 970.4,148.8 972.9,148.0 C975.4,147.2 979.2,147.0 982.7,146.1 C986.2,145.2 995.2,142.5 1000.0,141.0 C1004.8,139.5 1014.4,135.7 1019.5,134.5 C1024.6,133.3 1034.2,132.1 1039.0,132.0 C1043.8,131.9 1052.7,132.9 1056.5,133.9 C1060.3,134.9 1064.7,137.4 1068.2,139.4 C1071.7,141.4 1079.5,147.2 1083.8,149.1 C1088.1,151.0 1096.8,152.7 1101.4,154.0 C1106.0,155.3 1114.3,157.1 1118.9,158.9 C1123.5,160.7 1132.2,165.5 1136.5,167.6 C1140.8,169.7 1146.9,172.2 1152.0,175.4 C1157.1,178.6 1170.6,188.2 1175.4,192.0 C1180.2,195.8 1185.3,201.5 1189.1,204.7 C1192.9,207.9 1201.4,213.8 1204.7,216.4 C1208.0,219.0 1211.1,221.8 1214.4,224.7 C1217.7,227.6 1226.2,235.6 1230.0,238.4 C1233.8,241.2 1240.4,244.0 1243.6,246.1 C1246.8,248.2 1250.9,251.7 1254.4,254.9 C1257.9,258.1 1266.6,267.2 1270.7,270.5 C1274.8,273.8 1282.6,277.9 1285.6,280.3 C1288.6,282.7 1290.9,286.3 1293.7,288.8 C1296.5,291.3 1303.8,296.2 1307.3,299.3 C1310.8,302.4 1318.9,311.0 1320.6,312.8" fill="none" stroke="#10b67f" stroke-width="2" stroke-linejoin="round" stroke-linecap="round"/>
<rect x="88.5" y="255.5" width="1239" height="14" fill="rgba(229,57,53,0.17)" stroke="#e53935" stroke-width="1" shape-rendering="crispEdges"/>
<rect x="68.5" y="470.5" width="1238" height="14" fill="rgba(16,185,129,0.17)" stroke="#10b981" stroke-width="1" shape-rendering="crispEdges"/>
<ellipse cx="1269" cy="339" rx="10.8" ry="40.9" fill="rgba(247,160,60,0.25)" stroke="#f5a040" stroke-width="1.3"/>
<polygon points="97,20 104.2,20 100.6,23.2" fill="#c2c2c2"/>
<polygon points="160,22 167.2,22 163.6,25.2" fill="#c2c2c2"/>
<!-- legend icons -->
<g fill="#a9a9a9">
<rect x="6" y="537" width="10" height="6.2" rx="0.8"/><rect x="6" y="544.3" width="10" height="1.7"/>
<rect x="6" y="551" width="10" height="6.2" rx="0.8"/><rect x="6" y="558.3" width="10" height="1.7"/>
</g>
<g stroke="#fff" stroke-width="1" stroke-linecap="round"><line x1="11.3" x2="15" y1="539.9" y2="539.9"/><line x1="11.3" x2="15" y1="553.9" y2="553.9"/></g>
<g stroke="#a9a9a9" stroke-width="2.4"><path d="M20.6,538.4 L27.6,545.4 M27.6,538.4 L20.6,545.4"/><path d="M20.6,552.4 L27.6,559.4 M27.6,552.4 L20.6,559.4"/></g>
</svg>
<div id="txt" style="position:absolute;left:0;top:0;width:1546px;height:590px;will-change:transform;">
<div class="hd" style="left:20px;top:15.5px;font-size:11px;line-height:13px;font-weight:bold;color:#3b4a52;letter-spacing:-0.3px;">OIL.WTI</div>
<div class="hd" style="left:71.8px;top:17.2px;font-size:8.5px;line-height:10px;color:#74899a;letter-spacing:-0.55px;">CMD</div>
<div class="hd" style="left:139.6px;top:17.8px;font-size:9.6px;line-height:12px;color:#5a6b74;letter-spacing:-0.9px;">H1</div>
<div class="yl" style="top:47.5px">72.44</div><div class="yt" style="top:53.5px"></div><div class="yl" style="top:84.1px">72.06</div><div class="yt" style="top:90.1px"></div><div class="yl" style="top:120.7px">71.69</div><div class="yt" style="top:126.7px"></div><div class="yl" style="top:157.2px">71.32</div><div class="yt" style="top:163.2px"></div><div class="yl" style="top:193.8px">70.95</div><div class="yt" style="top:199.8px"></div><div class="yl" style="top:230.4px">70.57</div><div class="yt" style="top:236.4px"></div><div class="yl" style="top:266.9px">70.20</div><div class="yt" style="top:272.9px"></div><div class="yl" style="top:303.5px">69.83</div><div class="yt" style="top:309.5px"></div><div class="yl" style="top:340.1px">69.46</div><div class="yt" style="top:346.1px"></div><div class="yl" style="top:376.5px">69.08</div><div class="yt" style="top:382.5px"></div><div class="yl" style="top:412.8px">68.71</div><div class="yt" style="top:418.8px"></div><div class="yl" style="top:449.4px">68.34</div><div class="yt" style="top:455.4px"></div><div class="yl" style="top:485.9px">67.97</div><div class="yt" style="top:491.9px"></div><div class="yl" style="top:522.6px">67.59</div><div class="yt" style="top:528.6px"></div><div class="yl" style="top:553.6px">67.22</div>
<div class="xl" style="left:6.0px"><span style="letter-spacing:0">13.06.2023</span>&nbsp;&nbsp;<span style="margin-left:2.9px">21:00</span></div><div class="xt" style="left:5.5px"></div><div class="xl" style="left:138.9px">14.06&nbsp;&nbsp;17:00</div><div class="xt" style="left:138.4px"></div><div class="xl" style="left:271.0px">15.06&nbsp;&nbsp;13:00</div><div class="xt" style="left:270.5px"></div><div class="xl" style="left:403.2px">16.06&nbsp;&nbsp;09:00</div><div class="xt" style="left:402.7px"></div><div class="xl" style="left:535.4px">19.06&nbsp;&nbsp;06:00</div><div class="xt" style="left:534.9px"></div><div class="xl" style="left:667.6px">20.06&nbsp;&nbsp;04:00</div><div class="xt" style="left:667.1px"></div><div class="xl" style="left:799.8px">21.06&nbsp;&nbsp;00:00</div><div class="xt" style="left:799.3px"></div><div class="xl" style="left:932.0px">21.06&nbsp;&nbsp;19:00</div><div class="xt" style="left:931.5px"></div><div class="xl" style="left:1064.2px">22.06&nbsp;&nbsp;15:00</div><div class="xt" style="left:1063.7px"></div><div class="xl" style="left:1196.4px">23.06&nbsp;&nbsp;11:00</div><div class="xt" style="left:1195.9px"></div><div class="xl" style="left:1327.8px">26.06&nbsp;&nbsp;08:00</div><div class="xt" style="left:1327.3px"></div><div class="xl" style="left:1460.8px">27.06&nbsp;&nbsp;03:00</div><div class="xt" style="left:1460.3px"></div>
<svg width="1546" height="590" viewBox="0 0 1546 590"><polygon points="1475.8,355.5 1483.3,347.1 1535,347.1 1535,363.8 1483.3,363.8" fill="#85929a"/></svg>
<div class="hd" style="left:1487px;top:349.5px;font-size:12px;line-height:14px;font-weight:bold;color:#fff;letter-spacing:-0.05px;">69.37</div>
<div class="hd" style="left:1421.5px;top:537px;font-size:14px;line-height:16px;color:#b5c0c6;"><span style="color:#f7931e">13</span><span style="margin-left:0.6px">m</span><span style="color:#f7931e;margin-left:4.7px">31</span><span style="margin-left:1.5px">s</span></div>
<div class="lg" style="left:31px;top:539px;">SMA</div><div class="lg" style="left:57.4px;top:539px;">[200,</div><div class="lg" style="left:83.8px;top:539px;">0]</div><div class="lg" style="left:96px;top:539px;">70.34</div>
<div class="lg" style="left:31px;top:553px;">SMA</div><div class="lg" style="left:57.4px;top:553px;">[50,</div><div class="lg" style="left:78px;top:553px;">0]</div><div class="lg" style="left:90.2px;top:553px;">69.80</div>
</div>
</body></html>
